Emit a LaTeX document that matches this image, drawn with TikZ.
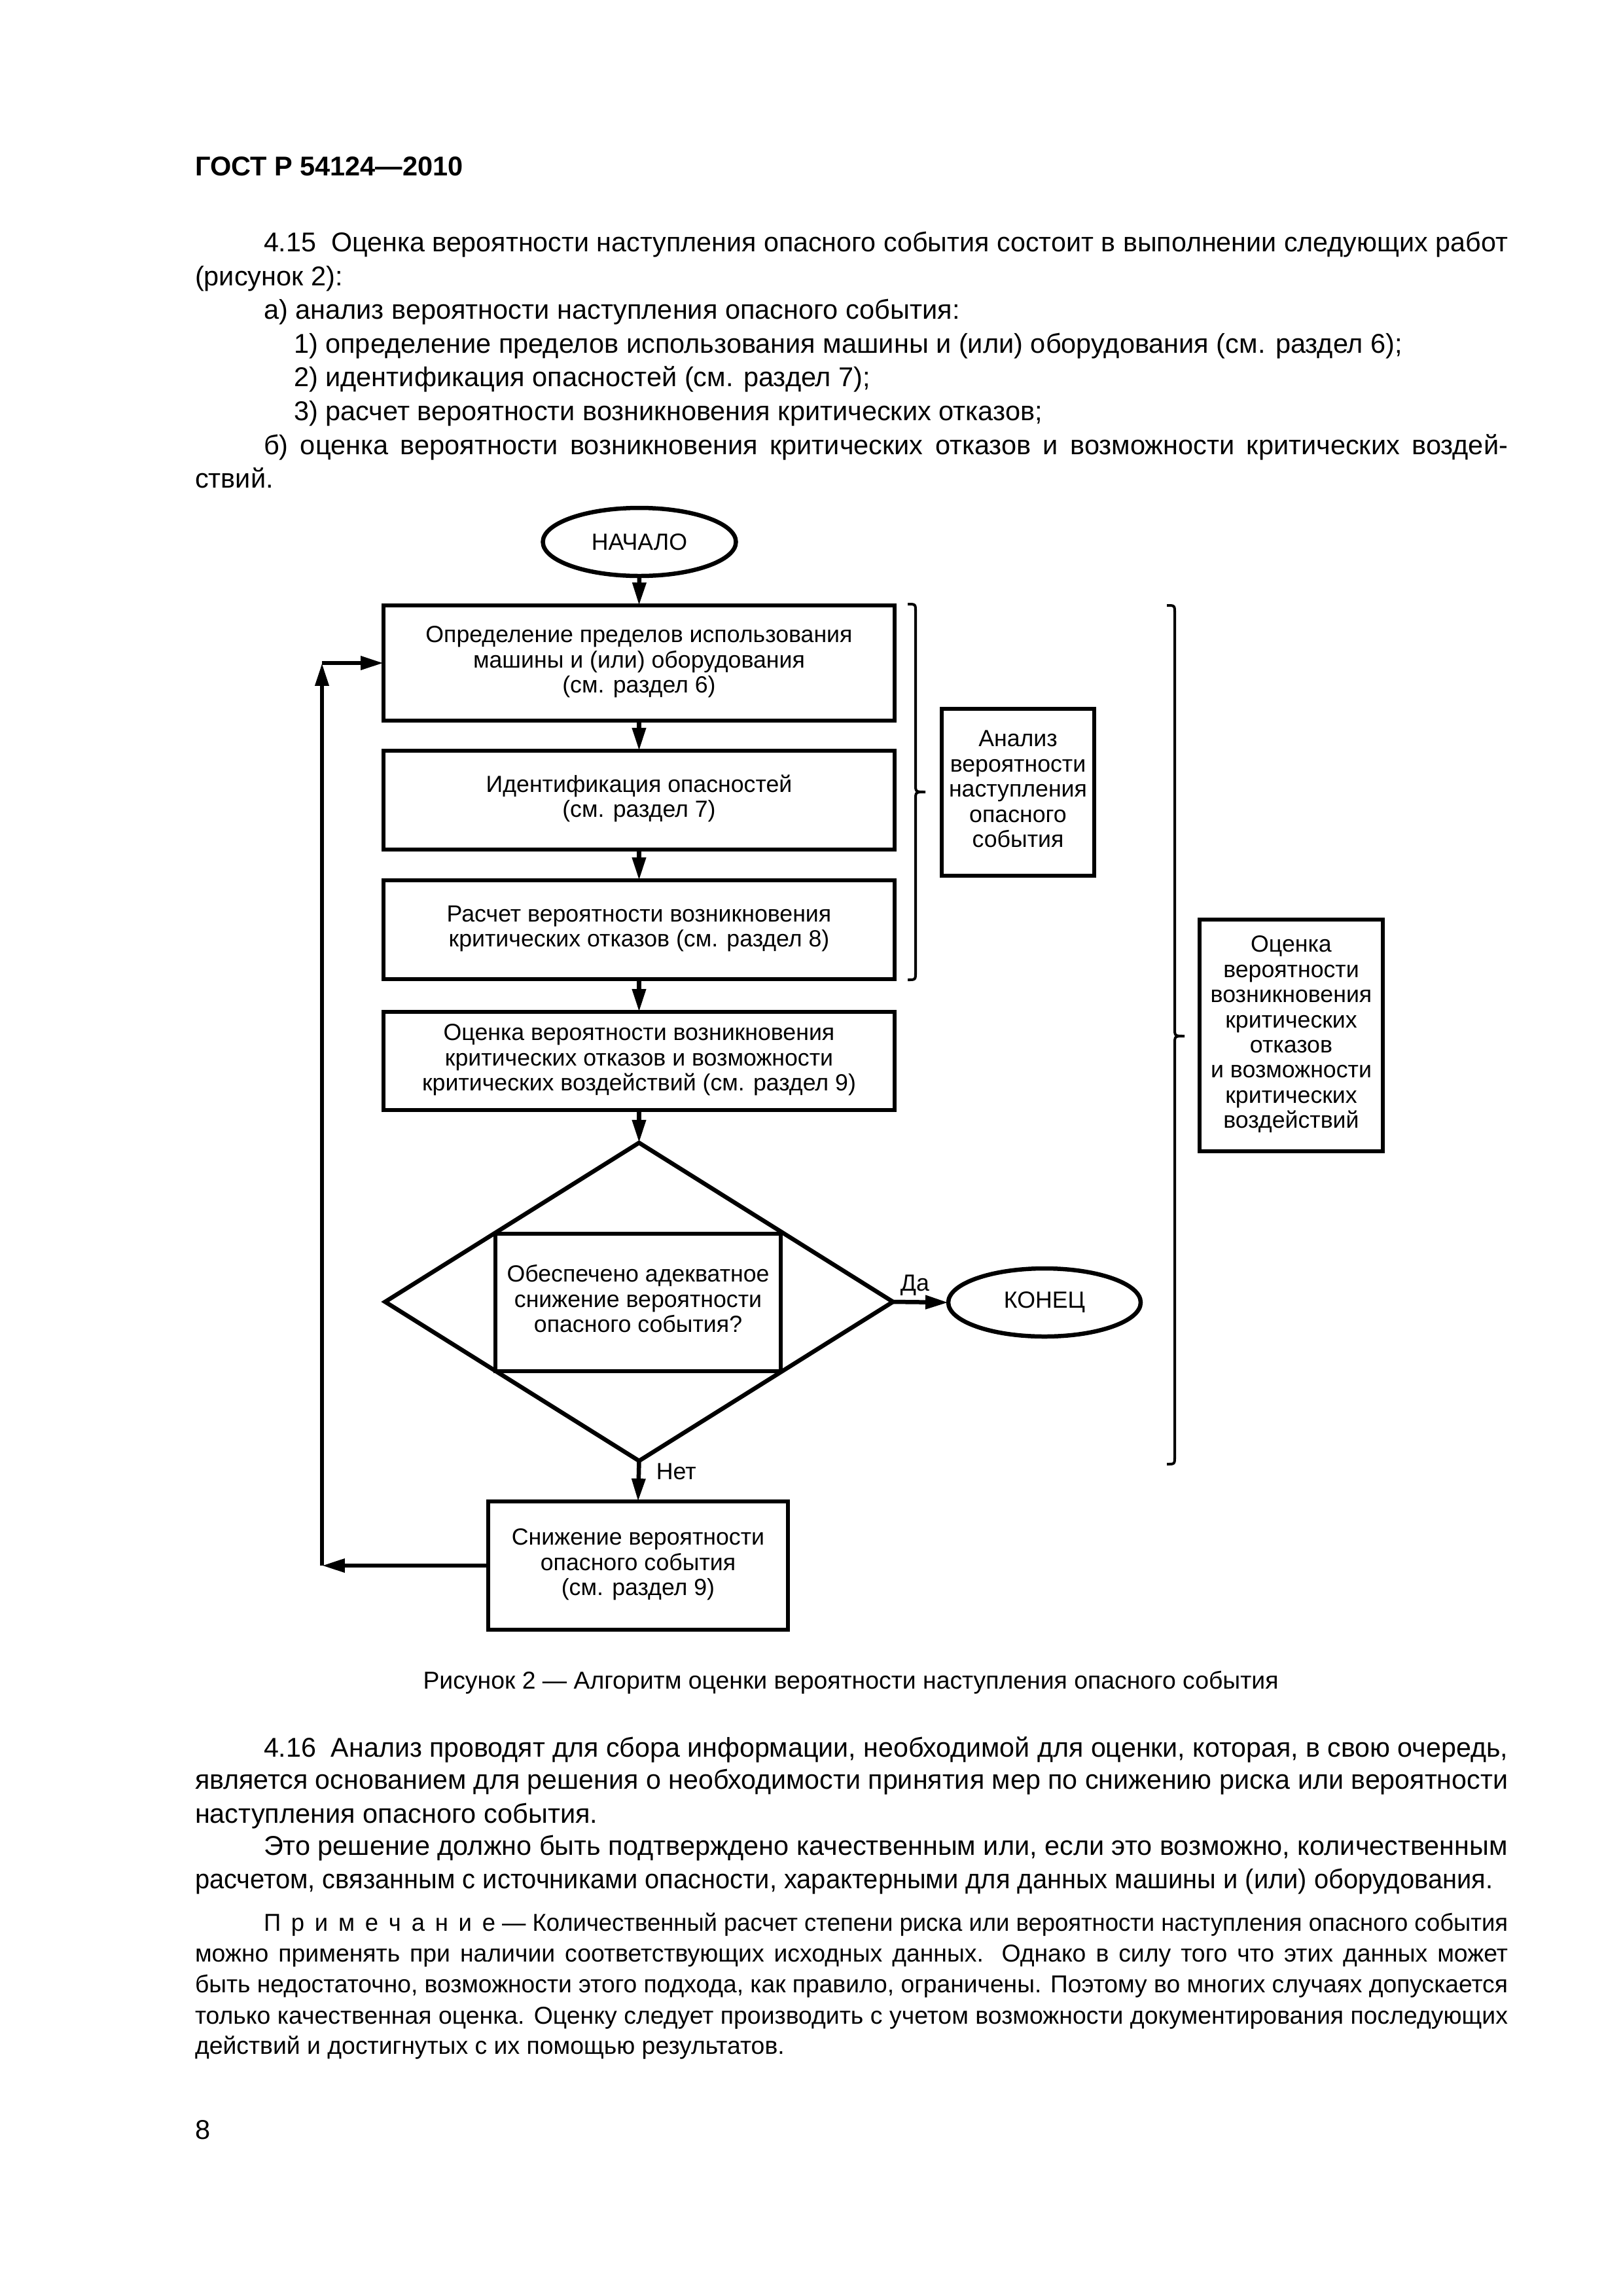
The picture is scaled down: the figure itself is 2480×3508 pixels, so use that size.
\documentclass[tikz,border=0pt]{standalone}
\usepackage{fontspec}
\usepackage{graphicx}
\setmainfont{Liberation Sans}
\usetikzlibrary{arrows.meta,shapes.geometric,fit}
\newlength\pxl
\setlength\pxl{0.0846667mm}
\newcommand\bodyf{\fontsize{10pt}{12.4pt}\selectfont}
\newcommand\capf{\fontsize{9pt}{11pt}\selectfont}
\newcommand\notef{\fontsize{9pt}{11pt}\selectfont}
\newcommand\headf{\fontsize{10pt}{12pt}\selectfont\bfseries}
\newcommand\flowf{\fontsize{8.6pt}{9.25pt}\selectfont}
\newsavebox\lbox
\newcommand\jl[2]{\sbox\lbox{#2}\ifdim\wd\lbox>#1\pxl\resizebox{#1\pxl}{\height}{\usebox\lbox}\else\makebox[#1\pxl][s]{#2}\fi}
\newcommand\wl[2]{\resizebox{#1\pxl}{\height}{#2}}
\newcommand\lsp{\hspace{3.9pt}}
\newcommand\ct[1]{\raisebox{-2.15pt}[0pt][0pt]{\begin{tabular}{@{}c@{}}#1\end{tabular}}}
\begin{document}
\begin{tikzpicture}[x=0.0846667mm,y=-0.0846667mm,
  txt/.style={anchor=base west,inner sep=0pt,outer sep=0pt},
  box/.style={draw,line width=0.55mm,inner sep=0pt,outer sep=0pt,font=\flowf},
  term/.style={draw,ellipse,line width=0.55mm,inner sep=0pt,outer sep=0pt,font=\flowf},
  dia/.style={draw,diamond,line width=0.55mm,inner sep=0pt,outer sep=0pt},
  arr/.style={line width=0.55mm,-{Triangle[length=2.96mm,width=1.7mm]}},
  lab/.style={anchor=base west,inner sep=0pt,font=\flowf},
  brc/.style={line width=0.34mm}]
\useasboundingbox[fill=white] (0,0) rectangle (2480,3508);

% header
\node[txt,font=\headf] (hdr) at (298,268) {ГОСТ Р 54124—2010};

% paragraph 4.15
\begin{scope}[every node/.style={txt,font=\bodyf}]
\node (p1) at (403,384) {\jl{1901}{4.15\ \ Оценка вероятности наступления опасного события состоит в выполнении следующих работ}};
\node (p2) at (298,436) {(рисунок 2):};
\node (p3) at (403,487) {а) анализ вероятности наступления опасного события:};
\node (p4) at (449,539) {1) определение пределов использования машины и (или) оборудования (см. раздел 6);};
\node (p5) at (449,590) {2) идентификация опасностей (см. раздел 7);};
\node (p6) at (449,642) {3) расчет вероятности возникновения критических отказов;};
\node (p7) at (403,694) {\jl{1901}{б) оценка вероятности возникновения критических отказов и возможности критических воздей-}};
\node (p8) at (298,745) {ствий.};
\end{scope}

% flowchart
\node[term,minimum width=295*\pxl,minimum height=104*\pxl] (start) at (977,828) {НАЧАЛО};
\node[box,fit={(586,925) (1367,1101)}] (b1) {\ct{Определение пределов использования\\машины и (или) оборудования\\(см. раздел 6)}};
\node[box,fit={(586,1147) (1367,1298)}] (b2) {\ct{Идентификация опасностей\\(см. раздел 7)}};
\node[box,fit={(586,1345) (1367,1496)}] (b3) {\ct{Расчет вероятности возникновения\\критических отказов (см. раздел 8)}};
\node[box,fit={(586,1546) (1367,1696)}] (b4) {\ct{Оценка вероятности возникновения\\критических отказов и возможности\\критических воздействий (см. раздел 9)}};
\node[dia,minimum width=776*\pxl,minimum height=486*\pxl] (dec) at (976.5,1989) {};
\node[box,fit={(757,1885) (1193,2095)}] (q) {\ct{Обеспечено адекватное\\снижение вероятности\\опасного события?}};
\node[term,minimum width=294*\pxl,minimum height=104*\pxl] (end) at (1596,1990) {КОНЕЦ};
\node[box,fit={(746,2294) (1204,2490)}] (b5) {\ct{Снижение вероятности\\опасного события\\(см. раздел 9)}};
\node[box,fit={(1439,1083) (1672,1338)}] (s1) {\ct{Анализ\\вероятности\\наступления\\опасного\\события}};
\node[box,fit={(1833,1405) (2113,1759)}] (s2) {\ct{Оценка\\вероятности\\возникновения\\критических\\отказов\\и возможности\\критических\\воздействий}};

\draw[arr] (start.south) -- (b1.north);
\draw[arr] (b1.south) -- (b2.north);
\draw[arr] (b2.south) -- (b3.north);
\draw[arr] (b3.south) -- (b4.north);
\draw[arr] (b4.south) -- (dec.north);
\draw[arr] (dec.east) -- (end.west);
\draw[arr] (dec.south) -- (b5.north);
\node[lab] (yes) at (1375,1972) {Да};
\node[lab] (no) at (1002,2260) {Нет};

\coordinate (lb) at (492,2392);
\coordinate (lt) at (492,1013);
\draw[arr] (b5.west) -- (lb);
\draw[arr] (lb) -- (lt);
\draw[arr] (lt) -- (b1.west);

% braces
\draw[brc] (1387,923) .. controls (1399,923) .. (1399,935) -- (1399,1198)
  .. controls (1399,1210) .. (1414,1210) .. controls (1399,1210) .. (1399,1222)
  -- (1399,1485) .. controls (1399,1497) .. (1387,1497);
\draw[brc] (1783,925) .. controls (1795,925) .. (1795,937) -- (1795,1571)
  .. controls (1795,1583) .. (1810,1583) .. controls (1795,1583) .. (1795,1595)
  -- (1795,2225) .. controls (1795,2237) .. (1783,2237);

% caption
\node[anchor=base,inner sep=0pt,font=\capf] (cap) at (1300,2580) {Рисунок 2 — Алгоритм оценки вероятности наступления опасного события};

% paragraph 4.16
\begin{scope}[every node/.style={txt,font=\bodyf}]
\node (q1) at (403,2684) {\jl{1901}{4.16\ \ Анализ проводят для сбора информации, необходимой для оценки, которая, в свою очередь,}};
\node (q2) at (298,2733) {\jl{2006}{является основанием для решения о необходимости принятия мер по снижению риска или вероятности}};
\node (q3) at (298,2785) {наступления опасного события.};
\node (q4) at (403,2834) {\jl{1901}{Это решение должно быть подтверждено качественным или, если это возможно, количественным}};
\node (q5) at (298,2885) {\wl{1983}{расчетом, связанным с источниками опасности, характерными для данных машины и (или) оборудования.}};
\end{scope}

% note
\begin{scope}[every node/.style={txt,font=\notef}]
\node (n1) at (403,2950) {\jl{1901}{П\lsp р\lsp и\lsp м\lsp е\lsp ч\lsp а\lsp н\lsp и\lsp е\ — Количественный расчет степени риска или вероятности наступления опасного события}};
\node (n2) at (298,2997) {\jl{2006}{можно применять при наличии соответствующих исходных данных. Однако в силу того что этих данных может}};
\node (n3) at (298,3044) {\jl{2006}{быть недостаточно, возможности этого подхода, как правило, ограничены. Поэтому во многих случаях допускается}};
\node (n4) at (298,3092) {\jl{2006}{только качественная оценка. Оценку следует производить с учетом возможности документирования последующих}};
\node (n5) at (298,3138) {действий и достигнутых с их помощью результатов.};
\end{scope}

\node[txt,font=\bodyf] (pg) at (298,3268) {8};
\end{tikzpicture}
\end{document}
